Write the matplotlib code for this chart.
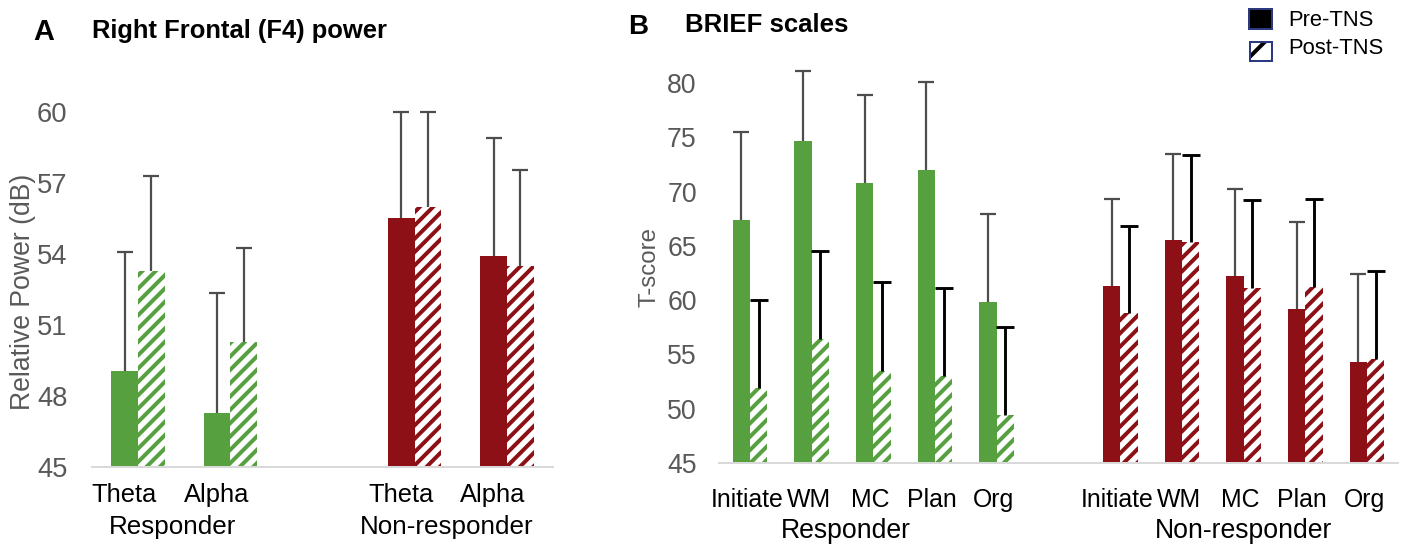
import matplotlib
matplotlib.use('Agg')
import matplotlib.pyplot as plt
from matplotlib.patches import Rectangle
from matplotlib.transforms import blended_transform_factory
import numpy as np

# Panel A - right frontal (F4) power
power_bands = ['Theta', 'Alpha']
groups = ['Responder', 'Non-responder']
power_pre = [49.07, 47.3, 55.53, 53.9]
power_post = [53.3, 50.27, 55.97, 53.5]
power_pre_sd = [5.0, 5.05, 4.47, 5.0]
power_post_sd = [4.0, 3.98, 4.03, 4.07]

# Panel B - BRIEF scales (T-score)
brief_scales = ['Initiate', 'WM', 'MC', 'Plan', 'Org']
brief_pre = [67.4, 74.7, 70.8, 72.0, 59.8, 61.3, 65.5, 62.2, 59.2, 54.3]
brief_post = [51.9, 56.4, 53.5, 53.0, 49.4, 58.8, 65.4, 61.1, 61.2, 54.6]
brief_pre_sd = [8.1, 6.4, 8.1, 8.1, 8.1, 8.0, 8.0, 8.0, 8.0, 8.1]
brief_post_sd = [8.1, 8.1, 8.2, 8.1, 8.1, 8.0, 8.0, 8.1, 8.1, 8.05]

GREEN = '#56A040'
RED = '#8C1015'
GREY_TXT = '#595959'
W, H, DPI = 1410, 544, 160

plt.rcParams['font.family'] = ['Liberation Sans', 'DejaVu Sans']
plt.rcParams['hatch.linewidth'] = 1.8


def fy(py):
    # pixel row -> figure fraction
    return 1 - py / H


def positions(n):
    # two groups of n categories with one empty slot between them
    return np.concatenate([np.arange(n) + g * (n + 1) for g in range(2)])


def draw_panel(ax, labels, pre, post, pre_sd, post_sd, width, err_styles):
    n = len(labels)
    x = positions(n)
    colors = [GREEN] * n + [RED] * n
    ax.bar(x - width / 2, pre, width, color=colors, lw=0, zorder=2)
    ax.bar(x + width / 2, post, width, color='white', edgecolor=colors,
           hatch='////', lw=0, zorder=2)
    for xs, vals, sd, (col, lw, cap) in [(x - width / 2, pre, pre_sd, err_styles[0]),
                                         (x + width / 2, post, post_sd, err_styles[1])]:
        eb = ax.errorbar(xs, vals, yerr=[np.zeros(len(vals)), sd], fmt='none',
                         ecolor=col, elinewidth=lw, capsize=cap, capthick=lw, zorder=3)
        # only the upper cap
        eb[1][0].set_visible(False)
        for art in list(eb[1]) + list(eb[2]):
            art.set_clip_on(False)
    for s in ['top', 'right', 'left']:
        ax.spines[s].set_visible(False)
    ax.spines['bottom'].set_color('#D9D9D9')
    ax.spines['bottom'].set_linewidth(0.9)
    ax.spines['bottom'].set_zorder(4)
    ax.set_xticks([])
    ax.set_xlim(-0.5, 2 * n + 0.5)
    return x


fig = plt.figure(figsize=(W / DPI, H / DPI), dpi=DPI)

# ---- panel A
axA = fig.add_axes([92 / W, fy(467), 461 / W, (467 - 112) / H])
xA = draw_panel(axA, power_bands, power_pre, power_post, power_pre_sd, power_post_sd,
                0.29, [('#4D4D4D', 1.0, 3.5), ('#4D4D4D', 1.0, 3.5)])
axA.set_ylim(45, 60)
axA.set_yticks(np.arange(45, 61, 3))
axA.tick_params(axis='y', length=0, pad=11, labelsize=12.3, labelcolor=GREY_TXT)
trA = blended_transform_factory(axA.transData, fig.transFigure)
for xi, lab in zip(xA, power_bands * 2):
    axA.text(xi - 0.15, fy(495), lab, transform=trA, ha='center', va='center', fontsize=11.5)
for g, off in zip(range(2), [-0.13, -0.15]):
    axA.text(xA[g * 2:(g + 1) * 2].mean() + off, fy(527), groups[g], transform=trA,
             ha='center', va='center', fontsize=11.7)
fig.text(23 / W, fy(292), 'Relative Power (dB)', rotation=90, ha='center', va='center',
         fontsize=12, color=GREY_TXT)
fig.text(33 / W, fy(31.5), 'A', fontsize=13, weight='bold', va='center')
fig.text(92 / W, fy(31), 'Right Frontal (F4) power', fontsize=11.5, weight='bold', va='center')

# ---- panel B
axB = fig.add_axes([719 / W, fy(463), 679 / W, (463 - 83) / H])
xB = draw_panel(axB, brief_scales, brief_pre, brief_post, brief_pre_sd, brief_post_sd,
                0.28, [('#4D4D4D', 1.0, 3.5), ('black', 1.3, 4)])
axB.set_ylim(45, 80)
axB.set_yticks(np.arange(45, 81, 5))
axB.tick_params(axis='y', length=0, pad=10, labelsize=12, labelcolor=GREY_TXT)
trB = blended_transform_factory(axB.transData, fig.transFigure)
for xi, lab in zip(xB, brief_scales * 2):
    axB.text(xi - 0.05, fy(500), lab, transform=trB, ha='center', va='center', fontsize=11.2)
for g, off in zip(range(2), [-0.45, 0.0]):
    axB.text(xB[g * 5:(g + 1) * 5].mean() + off, fy(531), groups[g], transform=trB,
             ha='center', va='center', fontsize=12)
fig.text(649 / W, fy(267), 'T-score', rotation=90, ha='center', va='center',
         fontsize=10.8, color=GREY_TXT)
fig.text(628 / W, fy(26.5), 'B', fontsize=12.5, weight='bold', va='center')
fig.text(685 / W, fy(25.5), 'BRIEF scales', fontsize=11.6, weight='bold', va='center')

# legend drawn by hand (black box / hatched box with navy border)
navy = '#2B3A80'
fig.patches.append(Rectangle((1249 / W, fy(29)), 23 / W, 20 / H, transform=fig.transFigure,
                             facecolor='black', edgecolor=navy, lw=0.9))
fig.patches.append(Rectangle((1250 / W, fy(61)), 22 / W, 19 / H, transform=fig.transFigure,
                             facecolor='white', edgecolor='black', hatch='//', lw=0))
fig.patches.append(Rectangle((1250 / W, fy(61)), 22 / W, 19 / H, transform=fig.transFigure,
                             facecolor='none', edgecolor=navy, lw=0.9))
fig.text(1288 / W, fy(21), 'Pre-TNS', fontsize=9.9, va='center')
fig.text(1288 / W, fy(48), 'Post-TNS', fontsize=9.9, va='center')

fig.savefig('out.png', dpi=DPI)
